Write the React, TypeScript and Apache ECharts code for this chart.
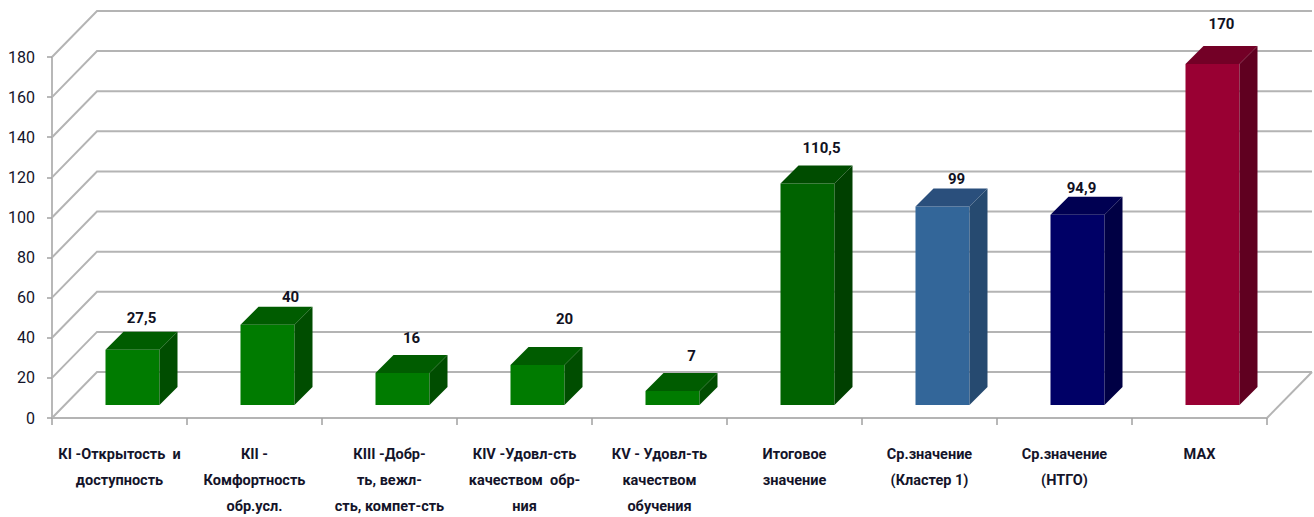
import React, { useEffect, useRef } from "react";
import * as echarts from "echarts";

const categories = [
  "КI -Открытость  и\nдоступность",
  "КII -\nКомфортность\nобр.усл.",
  "КIII -Добр-\nть, вежл-\nсть, компет-сть",
  "КIV -Удовл-сть\nкачеством  обр-\nния",
  "КV - Удовл-ть\nкачеством\nобучения",
  "Итоговое\nзначение",
  "Ср.значение\n(Кластер 1)",
  "Ср.значение\n(НТГО)",
  "МАХ",
];
const values = [27.5, 40, 16, 20, 7, 110.5, 99, 94.9, 170];
const valueLabels = ["27,5", "40", "16", "20", "7", "110,5", "99", "94,9", "170"];
const yTicks = [0, 20, 40, 60, 80, 100, 120, 140, 160, 180];

// [front, top, side] for each bar
const barColors = [
  ["#007b00", "#005c00", "#004d00"],
  ["#007b00", "#005c00", "#004d00"],
  ["#007b00", "#005c00", "#004d00"],
  ["#007b00", "#005c00", "#004d00"],
  ["#007b00", "#005c00", "#004d00"],
  ["#006300", "#004c00", "#004000"],
  ["#336699", "#2a4f7c", "#264a70"],
  ["#000066", "#000052", "#000044"],
  ["#990033", "#730026", "#600020"],
];
// hand-placed data label offsets from the top face's centre
const labelShift = [
  [0, -14], [14, -10], [0, -17], [18, -28], [10, -17], [5, -17], [5, -9], [-5, -9], [0, -22],
];

const WALL_DX = 45;
const WALL_DY = -46;
const BAR_DEPTH = 18;
const BAR_W = 54;
const BAR_SHIFT_X = 13;
const BAR_SHIFT_Y = -13;
const GRID_COLOR = "#b4b4b4";
const FONT = "Roboto, 'Liberation Sans', sans-serif";

const renderWall = (params: any, api: any) => {
  const c = params.coordSys;
  const v = api.value(1);
  const [, y] = api.coord([0, v]);
  const children: any[] = [
    {
      type: "polyline",
      shape: { points: [[c.x, y], [c.x + WALL_DX, y + WALL_DY], [c.x + c.width + WALL_DX, y + WALL_DY]] },
      style: { stroke: GRID_COLOR, lineWidth: 2, fill: "none" },
    },
  ];
  if (v === 0) {
    children.push({
      type: "line",
      shape: { x1: c.x + c.width, y1: y, x2: c.x + c.width + WALL_DX, y2: y + WALL_DY },
      style: { stroke: GRID_COLOR, lineWidth: 2 },
    });
  }
  return { type: "group", children };
};

const renderBar = (_params: any, api: any) => {
  const i = api.value(0);
  const [cx, yTop] = api.coord([i, api.value(1)]);
  const [, yBase] = api.coord([i, 0]);
  const [front, top, side] = barColors[i];
  const x0 = cx + BAR_SHIFT_X - BAR_W / 2;
  const x1 = x0 + BAR_W;
  const y0 = yTop + BAR_SHIFT_Y;
  const y1 = yBase + BAR_SHIFT_Y;
  const d = BAR_DEPTH;
  const [sx, sy] = labelShift[i];
  return {
    type: "group",
    children: [
      { type: "rect", shape: { x: x0, y: y0, width: BAR_W, height: y1 - y0 }, style: { fill: front } },
      { type: "polygon", shape: { points: [[x0, y0], [x0 + d, y0 - d], [x1 + d, y0 - d], [x1, y0]] }, style: { fill: top } },
      { type: "polygon", shape: { points: [[x1, y0], [x1 + d, y0 - d], [x1 + d, y1 - d], [x1, y1]] }, style: { fill: side } },
      {
        type: "text",
        style: {
          x: (x0 + x1 + d) / 2 + sx,
          y: y0 - d + sy,
          text: valueLabels[i],
          fill: "#111122",
          font: `bold 15px ${FONT}`,
          align: "center",
          verticalAlign: "middle",
        },
      },
    ],
  };
};

export default function App() {
  const ref = useRef<HTMLDivElement>(null);
  useEffect(() => {
    const chart = echarts.init(ref.current!, null, { renderer: "svg" });
    chart.setOption({
      animation: false,
      backgroundColor: "#ffffff",
      grid: { left: 52, right: 47, top: 57, bottom: 99, containLabel: false, outerBoundsMode: "none" },
      xAxis: {
        type: "category",
        data: categories,
        axisLine: { lineStyle: { color: GRID_COLOR, width: 2 } },
        axisTick: { show: true, length: 7, alignWithLabel: false, lineStyle: { color: "#a0a0a0", width: 1.5 } },
        axisLabel: {
          interval: 0,
          margin: 23,
          lineHeight: 26,
          color: "#14142a",
          fontFamily: FONT,
          fontWeight: "bold",
          fontSize: 14.5,
          verticalAlign: "top",
        },
      },
      yAxis: {
        type: "value",
        min: 0,
        max: 180,
        interval: 20,
        splitLine: { show: false },
        axisLine: { show: true, lineStyle: { color: "#a0a0a0", width: 1.5 } },
        axisTick: { show: true, length: 5, lineStyle: { color: "#a0a0a0", width: 1.5 } },
        axisLabel: { margin: 17, color: "#14142a", fontFamily: FONT, fontSize: 16, fontWeight: "normal" },
      },
      series: [
        {
          type: "custom",
          name: "grid",
          silent: true,
          z: 1,
          data: yTicks.map((v) => [0, v]),
          encode: { x: 0, y: 1 },
          renderItem: renderWall,
        },
        {
          type: "custom",
          name: "values",
          silent: true,
          z: 2,
          data: values.map((v, i) => [i, v]),
          encode: { x: 0, y: 1 },
          renderItem: renderBar,
        },
      ],
    });
    return () => chart.dispose();
  }, []);
  return <div ref={ref} style={{ position: "absolute", left: 0, top: 0, width: 1314, height: 517 }} />;
}
